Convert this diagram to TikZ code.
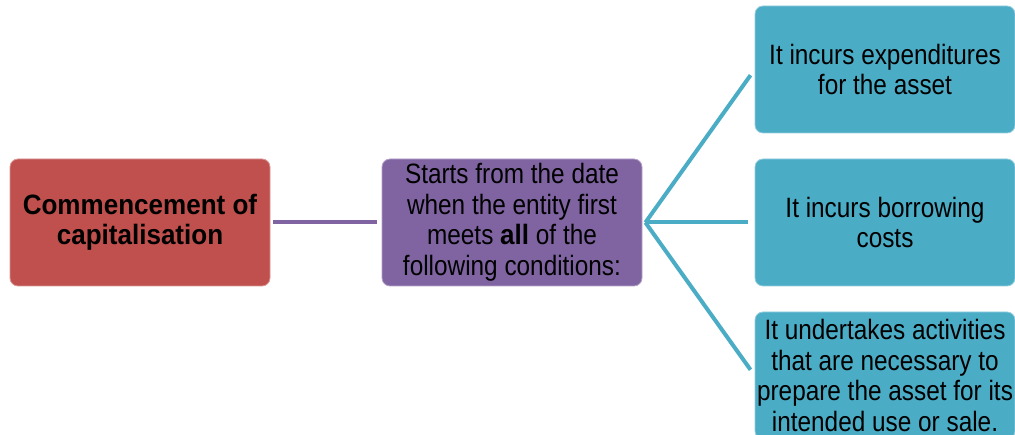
\documentclass[tikz,border=0pt]{standalone}
\usepackage{fontspec}
\setmainfont[FakeStretch=0.87,BoldFeatures={FakeStretch=0.93}]{Liberation Sans}
\usepackage{tikz}
\usetikzlibrary{positioning,calc}
\definecolor{brick}  {HTML}{C0504D}
\definecolor{plum}   {HTML}{8064A2}
\definecolor{aqua}   {HTML}{4BACC6}
\definecolor{ink}    {HTML}{000000}
\tikzset{
  % --- nodes
  box/.style    = {rounded corners=8pt, align=center, inner sep=2pt,
                   minimum width=260pt, minimum height=127pt, text=ink,
                   font=\fontsize{28}{30.5}\selectfont},
  start/.style  = {box, fill=brick, draw=brick!60!white, line width=0.8pt},
  rule/.style   = {box, fill=plum, draw=plum!60!white, line width=0.8pt},
  cond/.style   = {box, fill=aqua, draw=aqua!60!white, line width=0.8pt},
  % --- edges
  link/.style   = {line width=4pt, draw=plum},
  fork/.style   = {line width=4pt, draw=aqua, shorten >=7pt},
}
\begin{document}
\begin{tikzpicture}[x=1pt,y=-1pt]
  \useasboundingbox (0,0) rectangle (1015,435);
  \clip (0,0) rectangle (1015,435);

  \node[start] (cap) at (140,222.5) {\textbf{Commencement of}\\\textbf{capitalisation}};
  \node[rule]  (when) at (512,222.5) {Starts from the date\\when the entity first\\meets \textbf{all} of the\\following conditions:};

  \node[cond] (exp) at (885,69.5)  {It incurs expenditures\\for the asset};
  \node[cond] (bor) at (885,222.5) {It incurs borrowing\\costs};
  \node[cond] (act) at (885,375.5) {It undertakes activities\\that are necessary to\\prepare the asset for its\\intended use or sale.};

  \draw[link, shorten <=3pt, shorten >=5pt] (cap.east) -- (when.west);

  \coordinate (hub) at ($(when.east)+(3,0)$);
  \draw[fork] (hub) -- (exp.west);
  \draw[fork] (hub) -- (bor.west);
  \draw[fork] (hub) -- (act.west);
\end{tikzpicture}
\end{document}
